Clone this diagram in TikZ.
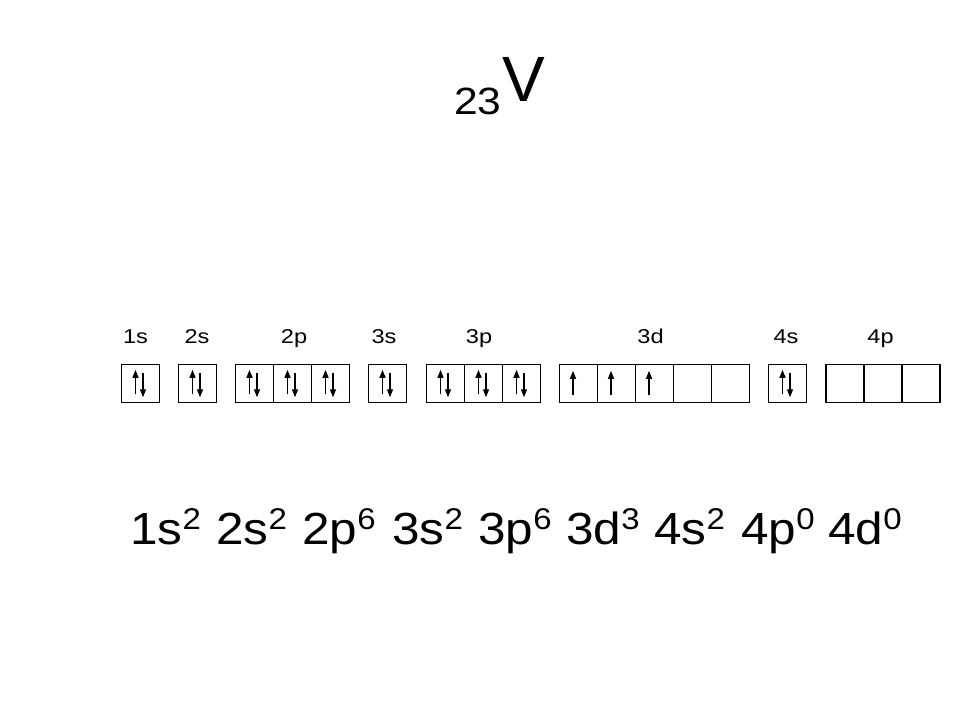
\documentclass[tikz,border=0pt]{standalone}
\usepackage{fontspec}
\setmainfont{Liberation Sans}
\usetikzlibrary{arrows.meta}
\begin{document}
\begin{tikzpicture}[x=1pt,y=-1pt,
  orb/.style={draw,line width=1.2pt,minimum width=38pt,minimum height=38pt,inner sep=0pt,outer sep=0pt},
  spin/.style={line width=1.2pt,-{Triangle[length=8pt,width=6pt]}},
  lab/.style={anchor=base,inner sep=0pt,xscale=1.18,font=\fontsize{20}{24}\selectfont},
  term/.style={anchor=base west,inner sep=0pt,xscale=1.1,font=\fontsize{45}{54}\selectfont}]
\useasboundingbox[fill=white] (0,0) rectangle (960,720);
% title
\node[anchor=base west,inner sep=0pt,xscale=1.12,font=\fontsize{38}{44}\selectfont] (sub) at (454,114) {23};
\node[anchor=base west,inner sep=0pt,font=\fontsize{64}{72}\selectfont] (el) at (502.5,101.7) {V};
% labels
\node[lab] (l1s) at (135.5,343) {1s};
\node[lab] (l2s) at (197,343) {2s};
\node[lab] (l2p) at (294,343) {2p};
\node[lab] (l3s) at (384,343) {3s};
\node[lab] (l3p) at (479,343) {3p};
\node[lab] (l3d) at (650.5,343) {3d};
\node[lab] (l4s) at (786,343) {4s};
\node[lab] (l4p) at (880.5,343) {4p};
% boxes
\foreach \n/\x in {a/121.5,b/178.5,c/235.5,d/273.5,e/311.5,f/368.5,g/426.5,h/464.5,i/502.5,j/559.5,k/597.5,l/635.5,m/673.5,n/711.5,o/768.5,p/826,q/864,r/902}{
  \node[orb,anchor=north west] (\n) at (\x,364.3) {};
}
% paired electrons
\foreach \n in {a,b,c,d,e,f,g,h,i,o}{
  \draw[spin] ([xshift=14pt,yshift=-11pt]\n.west) -- ([xshift=14pt,yshift=13.5pt]\n.west);
  \draw[spin] ([xshift=21.5pt,yshift=10.5pt]\n.west) -- ([xshift=21.5pt,yshift=-14pt]\n.west);
}
% single electrons
\foreach \n in {j,k,l}{
  \draw[spin] ([xshift=13.5pt,yshift=-12pt]\n.west) -- ([xshift=13.5pt,yshift=12.5pt]\n.west);
}
% configuration
\node[term] (c1) at (130,544) {1s\raisebox{15pt}{\fontsize{30}{36}\selectfont 2}};
\node[term] (c2) at (216,544) {2s\raisebox{15pt}{\fontsize{30}{36}\selectfont 2}};
\node[term] (c3) at (302,544) {2p\raisebox{15pt}{\fontsize{30}{36}\selectfont 6}};
\node[term] (c4) at (392,544) {3s\raisebox{15pt}{\fontsize{30}{36}\selectfont 2}};
\node[term] (c5) at (478,544) {3p\raisebox{15pt}{\fontsize{30}{36}\selectfont 6}};
\node[term] (c6) at (566,544) {3d\raisebox{15pt}{\fontsize{30}{36}\selectfont 3}};
\node[term] (c7) at (654,544) {4s\raisebox{15pt}{\fontsize{30}{36}\selectfont 2}};
\node[term] (c8) at (741,544) {4p\raisebox{15pt}{\fontsize{30}{36}\selectfont 0}};
\node[term] (c9) at (828,544) {4d\raisebox{15pt}{\fontsize{30}{36}\selectfont 0}};
\end{tikzpicture}
\end{document}
